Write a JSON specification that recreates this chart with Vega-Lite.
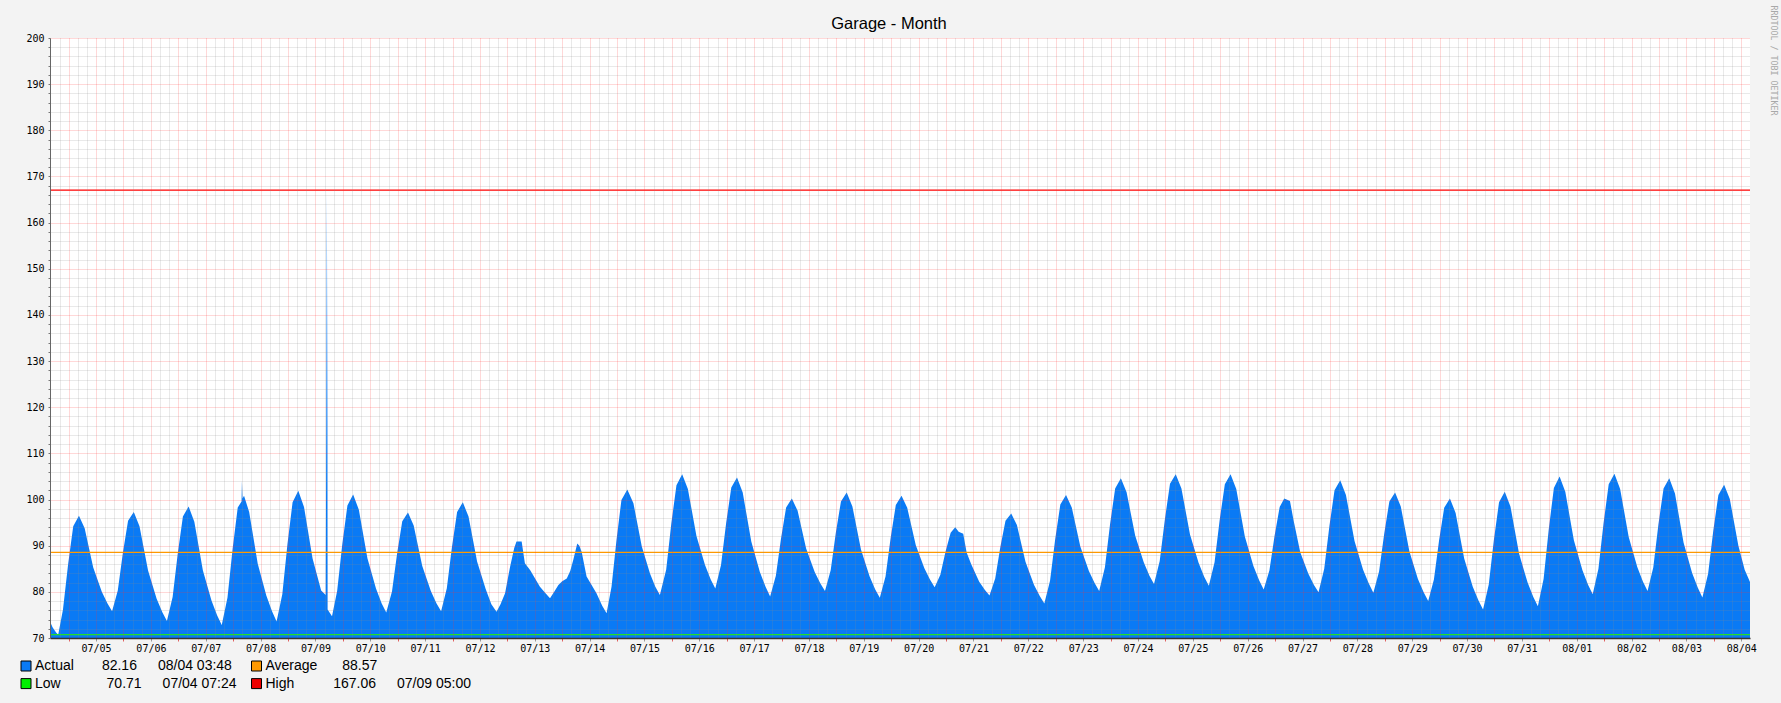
{
  "$schema": "https://vega.github.io/schema/vega-lite/v6.json",
  "width": 1700,
  "height": 600,
  "autosize": {"type": "none"},
  "padding": {"left": 50, "top": 38, "right": 31, "bottom": 65},
  "background": "#f3f3f3",
  "config": {"view": {"fill": "#ffffff", "stroke": null}, "font": "Liberation Sans"},
  "title": {"text": "Garage - Month", "font": "Liberation Sans", "fontSize": 16.5, "fontWeight": "normal", "color": "#000000", "anchor": "middle", "frame": "group", "baseline": "alphabetic", "offset": 9, "dx": -11, "dy": 49},
  "datasets": {
    "temp": [
      {"t":"2023-07-04T03:50Z","v":73.6},{"t":"2023-07-04T05:00Z","v":72.3},{"t":"2023-07-04T06:30Z","v":71.2},{"t":"2023-07-04T07:25Z","v":70.71},{"t":"2023-07-04T09:30Z","v":76.1},{"t":"2023-07-04T11:45Z","v":85.9},{"t":"2023-07-04T14:00Z","v":94.2},{"t":"2023-07-04T16:30Z","v":96.5},{"t":"2023-07-04T19:00Z","v":93.8},{"t":"2023-07-04T22:45Z","v":85.3},
      {"t":"2023-07-05T02:30Z","v":80.0},{"t":"2023-07-05T05:00Z","v":77.5},{"t":"2023-07-05T07:00Z","v":75.8},{"t":"2023-07-05T09:30Z","v":80.3},{"t":"2023-07-05T11:45Z","v":88.5},{"t":"2023-07-05T14:00Z","v":95.4},{"t":"2023-07-05T16:30Z","v":97.3},{"t":"2023-07-05T19:00Z","v":94.2},{"t":"2023-07-05T22:45Z","v":84.6},
      {"t":"2023-07-06T02:30Z","v":78.5},{"t":"2023-07-06T05:00Z","v":75.6},{"t":"2023-07-06T07:00Z","v":73.7},{"t":"2023-07-06T09:30Z","v":78.9},{"t":"2023-07-06T11:45Z","v":88.3},{"t":"2023-07-06T14:00Z","v":96.3},{"t":"2023-07-06T16:30Z","v":98.5},{"t":"2023-07-06T19:00Z","v":95.2},{"t":"2023-07-06T22:45Z","v":84.6},
      {"t":"2023-07-07T02:30Z","v":78.1},{"t":"2023-07-07T05:00Z","v":74.9},{"t":"2023-07-07T07:00Z","v":72.8},{"t":"2023-07-07T09:30Z","v":78.7},{"t":"2023-07-07T11:45Z","v":89.3},{"t":"2023-07-07T14:00Z","v":98.3},{"t":"2023-07-07T15:40Z","v":99.6},{"t":"2023-07-07T15:50Z","v":104.0},{"t":"2023-07-07T16:05Z","v":100.2},{"t":"2023-07-07T16:45Z","v":100.8},{"t":"2023-07-07T19:00Z","v":97.3},{"t":"2023-07-07T22:45Z","v":86.1},
      {"t":"2023-07-08T02:30Z","v":79.2},{"t":"2023-07-08T05:00Z","v":75.8},{"t":"2023-07-08T07:00Z","v":73.6},{"t":"2023-07-08T09:30Z","v":79.5},{"t":"2023-07-08T11:45Z","v":90.3},{"t":"2023-07-08T14:00Z","v":99.4},{"t":"2023-07-08T16:30Z","v":101.9},{"t":"2023-07-08T19:00Z","v":98.4},{"t":"2023-07-08T22:45Z","v":87.2},
      {"t":"2023-07-09T02:30Z","v":80.3},{"t":"2023-07-09T04:30Z","v":79.3},{"t":"2023-07-09T04:45Z","v":117.0},{"t":"2023-07-09T05:00Z","v":167.06},{"t":"2023-07-09T05:15Z","v":117.0},{"t":"2023-07-09T05:20Z","v":76.2},{"t":"2023-07-09T07:15Z","v":74.7},{"t":"2023-07-09T09:30Z","v":80.2},{"t":"2023-07-09T11:45Z","v":90.3},{"t":"2023-07-09T14:00Z","v":98.7},{"t":"2023-07-09T16:30Z","v":101.1},{"t":"2023-07-09T19:00Z","v":97.8},{"t":"2023-07-09T22:45Z","v":87.3},
      {"t":"2023-07-10T02:30Z","v":80.7},{"t":"2023-07-10T05:00Z","v":77.5},{"t":"2023-07-10T07:00Z","v":75.5},{"t":"2023-07-10T09:30Z","v":80.1},{"t":"2023-07-10T11:45Z","v":88.3},{"t":"2023-07-10T14:00Z","v":95.3},{"t":"2023-07-10T16:30Z","v":97.2},{"t":"2023-07-10T19:00Z","v":94.4},{"t":"2023-07-10T22:45Z","v":85.6},
      {"t":"2023-07-11T02:30Z","v":80.2},{"t":"2023-07-11T05:00Z","v":77.5},{"t":"2023-07-11T07:00Z","v":75.8},{"t":"2023-07-11T09:30Z","v":80.8},{"t":"2023-07-11T11:45Z","v":89.7},{"t":"2023-07-11T14:00Z","v":97.3},{"t":"2023-07-11T16:30Z","v":99.4},{"t":"2023-07-11T19:00Z","v":96.3},{"t":"2023-07-11T22:45Z","v":86.6},
      {"t":"2023-07-12T02:30Z","v":80.6},{"t":"2023-07-12T05:00Z","v":77.3},{"t":"2023-07-12T07:15Z","v":75.7},{"t":"2023-07-12T09:00Z","v":77.3},{"t":"2023-07-12T11:00Z","v":79.7},{"t":"2023-07-12T13:10Z","v":85.4},{"t":"2023-07-12T15:00Z","v":89.5},{"t":"2023-07-12T16:00Z","v":90.9},{"t":"2023-07-12T18:15Z","v":90.9},{"t":"2023-07-12T19:40Z","v":86.2},{"t":"2023-07-12T22:00Z","v":84.7},
      {"t":"2023-07-13T02:15Z","v":81.1},{"t":"2023-07-13T04:30Z","v":79.8},{"t":"2023-07-13T06:40Z","v":78.6},{"t":"2023-07-13T08:30Z","v":80.0},{"t":"2023-07-13T10:20Z","v":81.5},{"t":"2023-07-13T12:00Z","v":82.3},{"t":"2023-07-13T14:00Z","v":82.9},{"t":"2023-07-13T15:30Z","v":84.5},{"t":"2023-07-13T16:50Z","v":86.9},{"t":"2023-07-13T18:35Z","v":90.5},{"t":"2023-07-13T19:30Z","v":90.0},{"t":"2023-07-13T20:30Z","v":88.7},{"t":"2023-07-13T22:40Z","v":83.3},
      {"t":"2023-07-14T03:00Z","v":79.7},{"t":"2023-07-14T05:30Z","v":77.0},{"t":"2023-07-14T07:25Z","v":75.35},{"t":"2023-07-14T09:35Z","v":81.1},{"t":"2023-07-14T11:45Z","v":91.2},{"t":"2023-07-14T13:55Z","v":99.9},{"t":"2023-07-14T16:30Z","v":102.2},{"t":"2023-07-14T19:10Z","v":99.2},{"t":"2023-07-14T22:50Z","v":89.8},
      {"t":"2023-07-15T02:25Z","v":84.0},{"t":"2023-07-15T04:45Z","v":81.1},{"t":"2023-07-15T06:45Z","v":79.3},{"t":"2023-07-15T09:30Z","v":84.8},{"t":"2023-07-15T11:45Z","v":94.8},{"t":"2023-07-15T14:00Z","v":103.1},{"t":"2023-07-15T16:30Z","v":105.5},{"t":"2023-07-15T19:00Z","v":102.3},{"t":"2023-07-15T22:45Z","v":92.1},
      {"t":"2023-07-16T02:30Z","v":85.8},{"t":"2023-07-16T05:00Z","v":82.7},{"t":"2023-07-16T07:00Z","v":80.7},{"t":"2023-07-16T09:30Z","v":85.8},{"t":"2023-07-16T11:45Z","v":94.9},{"t":"2023-07-16T14:00Z","v":102.6},{"t":"2023-07-16T16:30Z","v":104.8},{"t":"2023-07-16T19:00Z","v":101.5},{"t":"2023-07-16T22:45Z","v":90.9},
      {"t":"2023-07-17T02:30Z","v":84.3},{"t":"2023-07-17T05:00Z","v":81.1},{"t":"2023-07-17T07:00Z","v":79.0},{"t":"2023-07-17T09:30Z","v":83.5},{"t":"2023-07-17T11:45Z","v":91.5},{"t":"2023-07-17T14:00Z","v":98.3},{"t":"2023-07-17T16:30Z","v":100.2},{"t":"2023-07-17T19:00Z","v":97.6},{"t":"2023-07-17T22:45Z","v":89.4},
      {"t":"2023-07-18T02:30Z","v":84.3},{"t":"2023-07-18T05:00Z","v":81.8},{"t":"2023-07-18T07:00Z","v":80.2},{"t":"2023-07-18T09:30Z","v":84.7},{"t":"2023-07-18T11:45Z","v":92.8},{"t":"2023-07-18T14:00Z","v":99.6},{"t":"2023-07-18T16:30Z","v":101.5},{"t":"2023-07-18T19:00Z","v":98.5},{"t":"2023-07-18T22:45Z","v":89.2},
      {"t":"2023-07-19T02:30Z","v":83.4},{"t":"2023-07-19T05:00Z","v":80.5},{"t":"2023-07-19T07:00Z","v":78.7},{"t":"2023-07-19T09:30Z","v":83.3},{"t":"2023-07-19T11:45Z","v":91.7},{"t":"2023-07-19T14:00Z","v":98.8},{"t":"2023-07-19T16:30Z","v":100.8},{"t":"2023-07-19T19:00Z","v":98.2},{"t":"2023-07-19T22:45Z","v":90.1},
      {"t":"2023-07-20T02:30Z","v":85.1},{"t":"2023-07-20T05:00Z","v":82.6},{"t":"2023-07-20T07:00Z","v":81.0},{"t":"2023-07-20T09:30Z","v":83.7},{"t":"2023-07-20T11:45Z","v":88.7},{"t":"2023-07-20T14:00Z","v":92.8},{"t":"2023-07-20T16:00Z","v":94.0},{"t":"2023-07-20T17:30Z","v":93.0},{"t":"2023-07-20T19:30Z","v":92.6},{"t":"2023-07-20T21:00Z","v":88.5},{"t":"2023-07-20T23:00Z","v":86.0},
      {"t":"2023-07-21T02:30Z","v":82.2},{"t":"2023-07-21T05:00Z","v":80.4},{"t":"2023-07-21T07:00Z","v":79.2},{"t":"2023-07-21T09:30Z","v":82.9},{"t":"2023-07-21T11:45Z","v":89.7},{"t":"2023-07-21T14:00Z","v":95.4},{"t":"2023-07-21T16:30Z","v":97.0},{"t":"2023-07-21T19:00Z","v":94.5},{"t":"2023-07-21T22:45Z","v":86.5},
      {"t":"2023-07-22T02:30Z","v":81.5},{"t":"2023-07-22T05:00Z","v":79.1},{"t":"2023-07-22T07:00Z","v":77.5},{"t":"2023-07-22T09:30Z","v":82.4},{"t":"2023-07-22T11:45Z","v":91.4},{"t":"2023-07-22T14:00Z","v":98.9},{"t":"2023-07-22T16:30Z","v":101.0},{"t":"2023-07-22T19:00Z","v":98.3},{"t":"2023-07-22T22:45Z","v":89.8},
      {"t":"2023-07-23T02:30Z","v":84.5},{"t":"2023-07-23T05:00Z","v":81.9},{"t":"2023-07-23T07:00Z","v":80.2},{"t":"2023-07-23T09:30Z","v":85.3},{"t":"2023-07-23T11:45Z","v":94.6},{"t":"2023-07-23T14:00Z","v":102.4},{"t":"2023-07-23T16:30Z","v":104.6},{"t":"2023-07-23T19:00Z","v":101.6},{"t":"2023-07-23T22:45Z","v":92.2},
      {"t":"2023-07-24T02:30Z","v":86.4},{"t":"2023-07-24T05:00Z","v":83.5},{"t":"2023-07-24T07:00Z","v":81.7},{"t":"2023-07-24T09:30Z","v":86.7},{"t":"2023-07-24T11:45Z","v":95.7},{"t":"2023-07-24T14:00Z","v":103.4},{"t":"2023-07-24T16:30Z","v":105.5},{"t":"2023-07-24T19:00Z","v":102.4},{"t":"2023-07-24T22:45Z","v":92.4},
      {"t":"2023-07-25T02:30Z","v":86.3},{"t":"2023-07-25T05:00Z","v":83.2},{"t":"2023-07-25T07:00Z","v":81.3},{"t":"2023-07-25T09:30Z","v":86.4},{"t":"2023-07-25T11:45Z","v":95.6},{"t":"2023-07-25T14:00Z","v":103.3},{"t":"2023-07-25T16:30Z","v":105.5},{"t":"2023-07-25T19:00Z","v":102.3},{"t":"2023-07-25T22:45Z","v":92.0},
      {"t":"2023-07-26T02:30Z","v":85.6},{"t":"2023-07-26T05:00Z","v":82.5},{"t":"2023-07-26T07:00Z","v":80.5},{"t":"2023-07-26T09:30Z","v":84.6},{"t":"2023-07-26T11:45Z","v":92.1},{"t":"2023-07-26T14:00Z","v":98.4},{"t":"2023-07-26T16:00Z","v":100.2},{"t":"2023-07-26T18:30Z","v":99.7},{"t":"2023-07-26T20:00Z","v":95.7},{"t":"2023-07-26T23:00Z","v":88.6},
      {"t":"2023-07-27T02:30Z","v":84.0},{"t":"2023-07-27T05:00Z","v":81.5},{"t":"2023-07-27T07:00Z","v":79.9},{"t":"2023-07-27T09:30Z","v":85.0},{"t":"2023-07-27T11:45Z","v":94.2},{"t":"2023-07-27T14:00Z","v":102.0},{"t":"2023-07-27T16:30Z","v":104.2},{"t":"2023-07-27T19:00Z","v":101.0},{"t":"2023-07-27T22:45Z","v":91.0},
      {"t":"2023-07-28T02:30Z","v":84.8},{"t":"2023-07-28T05:00Z","v":81.8},{"t":"2023-07-28T07:00Z","v":79.8},{"t":"2023-07-28T09:30Z","v":84.4},{"t":"2023-07-28T11:45Z","v":92.6},{"t":"2023-07-28T14:00Z","v":99.6},{"t":"2023-07-28T16:30Z","v":101.5},{"t":"2023-07-28T19:00Z","v":98.5},{"t":"2023-07-28T22:45Z","v":88.8},
      {"t":"2023-07-29T02:30Z","v":82.8},{"t":"2023-07-29T05:00Z","v":79.9},{"t":"2023-07-29T07:00Z","v":78.0},{"t":"2023-07-29T09:30Z","v":82.7},{"t":"2023-07-29T11:45Z","v":91.1},{"t":"2023-07-29T14:00Z","v":98.2},{"t":"2023-07-29T16:30Z","v":100.2},{"t":"2023-07-29T19:00Z","v":97.1},{"t":"2023-07-29T22:45Z","v":87.2},
      {"t":"2023-07-30T02:30Z","v":81.1},{"t":"2023-07-30T05:00Z","v":78.1},{"t":"2023-07-30T07:00Z","v":76.2},{"t":"2023-07-30T09:30Z","v":81.6},{"t":"2023-07-30T11:45Z","v":91.3},{"t":"2023-07-30T14:00Z","v":99.4},{"t":"2023-07-30T16:30Z","v":101.7},{"t":"2023-07-30T19:00Z","v":98.5},{"t":"2023-07-30T22:45Z","v":88.3},
      {"t":"2023-07-31T02:30Z","v":82.0},{"t":"2023-07-31T05:00Z","v":78.9},{"t":"2023-07-31T07:00Z","v":76.9},{"t":"2023-07-31T09:30Z","v":82.8},{"t":"2023-07-31T11:45Z","v":93.5},{"t":"2023-07-31T14:00Z","v":102.5},{"t":"2023-07-31T16:30Z","v":105.0},{"t":"2023-07-31T19:00Z","v":101.7},{"t":"2023-07-31T22:45Z","v":91.2},
      {"t":"2023-08-01T02:30Z","v":84.7},{"t":"2023-08-01T05:00Z","v":81.5},{"t":"2023-08-01T07:00Z","v":79.5},{"t":"2023-08-01T09:30Z","v":85.0},{"t":"2023-08-01T11:45Z","v":94.9},{"t":"2023-08-01T14:00Z","v":103.3},{"t":"2023-08-01T16:30Z","v":105.6},{"t":"2023-08-01T19:00Z","v":102.3},{"t":"2023-08-01T22:45Z","v":91.9},
      {"t":"2023-08-02T02:30Z","v":85.4},{"t":"2023-08-02T05:00Z","v":82.2},{"t":"2023-08-02T07:00Z","v":80.2},{"t":"2023-08-02T09:30Z","v":85.3},{"t":"2023-08-02T11:45Z","v":94.6},{"t":"2023-08-02T14:00Z","v":102.4},{"t":"2023-08-02T16:30Z","v":104.6},{"t":"2023-08-02T19:00Z","v":101.3},{"t":"2023-08-02T22:45Z","v":90.7},
      {"t":"2023-08-03T02:30Z","v":84.1},{"t":"2023-08-03T05:00Z","v":80.9},{"t":"2023-08-03T07:00Z","v":78.8},{"t":"2023-08-03T09:30Z","v":83.9},{"t":"2023-08-03T11:45Z","v":93.2},{"t":"2023-08-03T14:00Z","v":101.0},{"t":"2023-08-03T16:30Z","v":103.2},{"t":"2023-08-03T19:00Z","v":100.1},{"t":"2023-08-03T22:45Z","v":90.0},
      {"t":"2023-08-04T01:30Z","v":84.8},{"t":"2023-08-04T03:50Z","v":82.16}
    ],
    "lines": [
      {"series": "Average", "v": 88.57},
      {"series": "Low", "v": 70.71},
      {"series": "High", "v": 167.06}
    ]
  },
  "layer": [
    {
      "data": {"name": "temp"},
      "mark": {"type": "area", "interpolate": "linear"},
      "encoding": {
        "x": {
          "field": "t", "type": "temporal",
          "scale": {"type": "utc", "nice": false, "domain": [
            {"year": 2023, "month": 7, "date": 4, "hours": 3, "minutes": 50, "utc": true},
            {"year": 2023, "month": 8, "date": 4, "hours": 3, "minutes": 50, "utc": true}
          ]},
          "axis": {
            "orient": "bottom",
            "title": null,
            "values": {"expr": "sequence(1688443200000, 1691107200001, 14400000)"},
            "labelExpr": "utchours(datum.value) === 0 ? utcFormat(datum.value, '%m/%d') : ''",
            "labelFont": "DejaVu Sans Mono", "labelFontSize": 10, "labelColor": "#000000",
            "labelPadding": 2, "labelOverlap": false, "labelFlush": false, "labelBound": false,
            "tickSize": 3,
            "tickOpacity": {"condition": {"test": "utchours(datum.value) % 12 === 0", "value": 1}, "value": 0},
            "tickColor": {"condition": {"test": "utchours(datum.value) === 12", "value": "#e06060"}, "value": "#999999"},
            "domainColor": "#333333", "domainWidth": 1.5,
            "grid": true,
            "gridColor": {"condition": {"test": "utchours(datum.value) % 12 === 0", "value": "#ff3030"}, "value": "#8a8a8a"},
            "gridOpacity": 0.38,
            "gridDash": [1, 1],
            "gridWidth": 1,
            "zindex": 1
          }
        },
        "y": {
          "field": "v", "type": "quantitative",
          "scale": {"domain": [70, 200], "nice": false, "zero": false},
          "axis": {
            "title": null,
            "values": [70,72,74,76,78,80,82,84,86,88,90,92,94,96,98,100,102,104,106,108,110,112,114,116,118,120,122,124,126,128,130,132,134,136,138,140,142,144,146,148,150,152,154,156,158,160,162,164,166,168,170,172,174,176,178,180,182,184,186,188,190,192,194,196,198,200],
            "format": "d",
            "labelExpr": "datum.value % 10 === 0 ? datum.label : ''",
            "labelFont": "DejaVu Sans Mono", "labelFontSize": 10, "labelColor": "#000000",
            "labelPadding": 4, "labelOverlap": false, "labelBound": false,
            "tickSize": 2, "tickColor": "#777777",
            "domainColor": "#666666", "domainWidth": 1,
            "grid": true,
            "gridColor": {"condition": {"test": "datum.value % 10 === 0", "value": "#ff3030"}, "value": "#8a8a8a"},
            "gridOpacity": 0.38,
            "gridDash": [1, 1],
            "gridWidth": 1,
            "zindex": 1
          }
        },
        "y2": {"datum": 70},
        "color": {
          "datum": "Actual",
          "scale": {"domain": ["Actual", "Average", "Low", "High"], "range": ["#0a7af5", "#ff9900", "#00ee00", "#ee0000"]},
          "legend": {
            "orient": "none", "legendX": -31, "legendY": 621,
            "columns": 2, "direction": "horizontal",
            "title": null, "padding": 0,
            "symbolType": "square", "symbolSize": 100,
            "symbolStrokeColor": "#000000", "symbolStrokeWidth": 1, "symbolOpacity": 1,
            "labelFont": "Liberation Sans", "labelFontSize": 14, "labelColor": "#000000",
            "labelOffset": 2, "labelLimit": 0,
            "columnPadding": 12.5, "rowPadding": 3.6,
            "labelExpr": "datum.label === 'Actual' ? 'Actual\u2002\u2002\u2002\u200282.16\u2002\u2002\u200208/04 03:48' : datum.label === 'Average' ? 'Average\u2002\u2002\u2002\u00a088.57' : datum.label === 'Low' ? 'Low\u2002\u2002\u2002\u2002\u2002\u2002\u00a070.71\u2002\u2002\u200207/04 07:24' : 'High\u2002\u2002\u2002\u2002\u2002\u00a0167.06\u2002\u2002\u200207/09 05:00'"
          }
        }
      }
    },
    {
      "data": {"name": "lines"},
      "mark": {"type": "rule", "strokeWidth": 1.2},
      "encoding": {
        "y": {
          "field": "v", "type": "quantitative",
          "axis": {
            "orient": "right", "labels": false, "ticks": false, "domain": false, "grid": false,
            "title": "RRDTOOL / TOBI OETIKER",
            "titleFont": "DejaVu Sans Mono", "titleFontSize": 8.3, "titleFontWeight": "normal", "titleColor": "#a8a8a8",
            "titleAngle": 90, "titleAlign": "left", "titleBaseline": "middle",
            "titleX": 22, "titleY": -33
          }
        },
        "stroke": {
          "field": "series", "type": "nominal",
          "scale": {"domain": ["Average", "Low", "High"], "range": ["#ff9900", "#22e022", "#ff0000"]},
          "legend": null
        }
      }
    }
  ],
  "resolve": {"axis": {"y": "independent"}}
}
